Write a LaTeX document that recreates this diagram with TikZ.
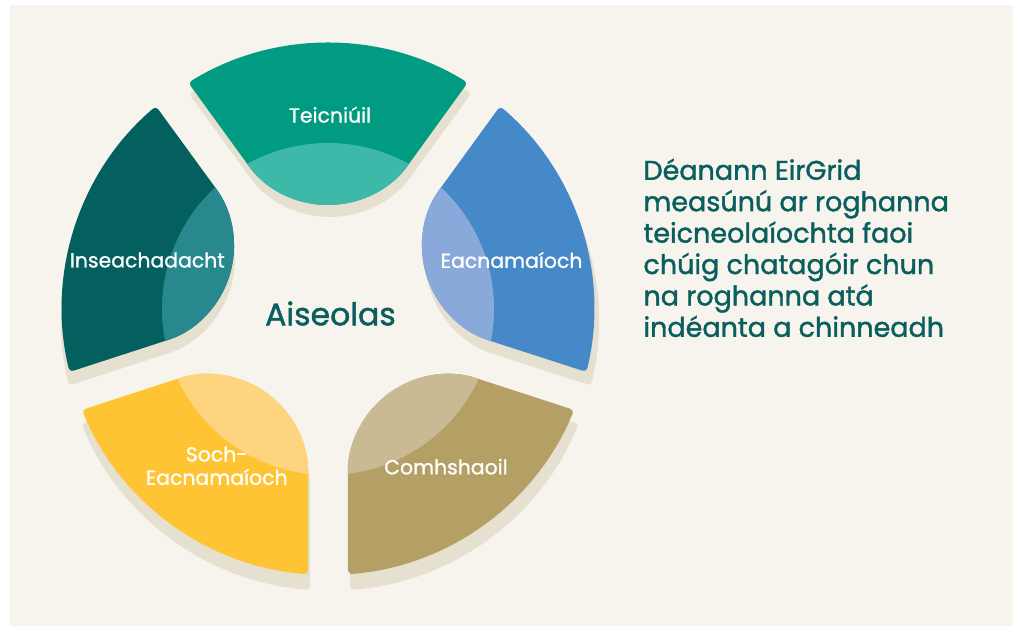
\documentclass[tikz,border=0pt]{standalone}
\usepackage{fontspec}
\setmainfont{Poppins}
\newfontfamily\medfont{Poppins}[FakeBold=1.4]
\newfontfamily\lblfont{Poppins}[FakeBold=0.9]
\usetikzlibrary{calc}
\definecolor{bgc}{HTML}{F7F4EE}
\definecolor{shadowc}{HTML}{E6E0D0}
\definecolor{tealc}{HTML}{009B80}
\definecolor{teallc}{HTML}{3DB8A9}
\definecolor{dtealc}{HTML}{03605F}
\definecolor{dteallc}{HTML}{27898D}
\definecolor{bluec}{HTML}{4689C8}
\definecolor{bluelc}{HTML}{89A9DA}
\definecolor{yelc}{HTML}{FEC434}
\definecolor{yellc}{HTML}{FED57E}
\definecolor{khakic}{HTML}{B49F65}
\definecolor{khakilc}{HTML}{C9BA93}
\definecolor{txc}{HTML}{0A5E5E}
% #1 axis angle, #2 cx, #3 cy, #4 scale
\newcommand\petalpath[4]{($(#2,#3)+(#1-31.69:266*#4)$) arc[start angle=#1-31.69, end angle=#1+31.69, radius=266*#4] -- ($(#2,#3)+(#1+29.09:166.2*#4)$) arc[start angle=#1+126, end angle=#1+234, radius=100*#4] -- cycle}
\tikzset{
  petalfill/.style={rounded corners=4pt},
  lbl/.style={text=white, inner sep=0, font=\lblfont\fontsize{20.4}{23.3}\selectfont, align=center},
  desc/.style={text=txc, inner sep=0, font=\medfont\fontsize{27}{31.4}\selectfont, align=left}
}
\begin{document}
\begin{tikzpicture}[x=1pt,y=1pt]
\useasboundingbox (0,0) rectangle (1013,626);
\fill[white] (0,0) rectangle (1013,626);
\fill[bgc] (10,0) rectangle (1013,621);
\foreach \a in {90,162,234,306,18} {\fill[shadowc, petalfill] \petalpath{\a}{330}{304}{1.01};}
\foreach \a/\c/\l in {90/tealc/teallc, 162/dtealc/dteallc, 234/yelc/yellc, 306/khakic/khakilc, 18/bluec/bluelc} {
  \fill[\c, petalfill] \petalpath{\a}{328}{317}{1};
  \begin{scope}
    \clip[petalfill] \petalpath{\a}{328}{317}{1};
    \fill[\l] (328,317) circle[radius=166];
  \end{scope}
}
\node[lbl] (tec) at (330,511.3) {Teicniúil};
\node[lbl] (ins) at (147.3,366) {Inseachadacht};
\node[lbl] (eac) at (511.5,366) {Eacnamaíoch};
\node[lbl] (soch) at (216.7,160.3) {Soch-\\Eacnamaíoch};
\node[lbl] (com) at (446,159.3) {Comhshaoil};
\node[text=txc, inner sep=0, font=\medfont\fontsize{31.5}{38}\selectfont] (ais) at (330.5,312.5) {Aiseolas};
\node[desc, anchor=north west] (txt) at (643.3,467.5) {Déanann EirGrid\\measúnú ar roghanna\\teicneolaíochta faoi\\chúig chatagóir chun\\na roghanna atá\\indéanta a chinneadh};
\end{tikzpicture}
\end{document}
